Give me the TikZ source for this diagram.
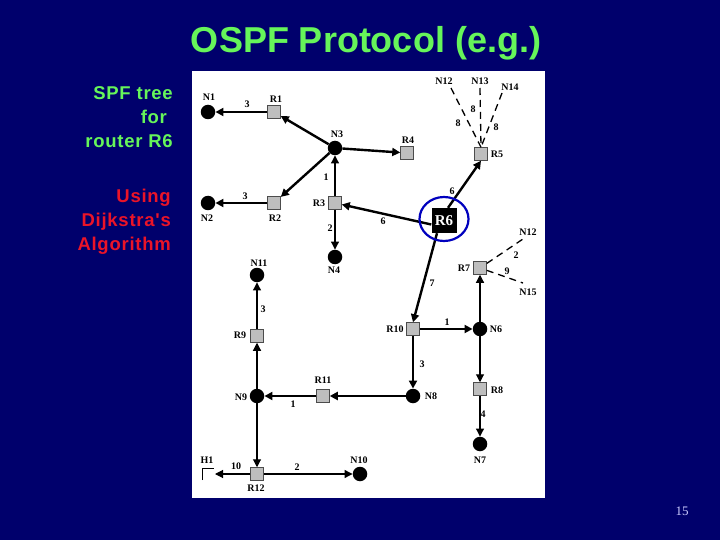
\documentclass[tikz,border=0pt]{standalone}
\usepackage{fontspec}
\setmainfont{Liberation Serif}
\setsansfont{Liberation Sans}
\newfontfamily\sidefont[LetterSpace=4]{Liberation Sans}
\usetikzlibrary{arrows.meta,shapes.geometric}
\definecolor{slidebg}{RGB}{0,0,108}
\definecolor{titlegreen}{RGB}{102,245,90}
\definecolor{sidered}{RGB}{235,20,40}
\definecolor{ringblue}{RGB}{0,0,190}
\definecolor{routergray}{RGB}{190,190,190}
\tikzset{
    router/.style={draw=black!70, fill=routergray, minimum size=13pt, inner sep=0pt, line width=0.5pt},
    net/.style={circle, fill=black, minimum size=14.5pt, inner sep=0pt},
    lab/.style={font=\bfseries\fontsize{10}{10}\selectfont, text=black, inner sep=0pt},
    side/.style={font=\sidefont\bfseries\fontsize{18.5}{24}\selectfont, align=right, anchor=north east, inner sep=0pt},
    thin link/.style={line width=1.1pt, -{Triangle[length=8pt,width=8pt]}},
    thick link/.style={line width=2.4pt, -{Triangle[length=8pt,width=8pt]}},
    dash link/.style={line width=1.3pt, dash pattern=on 7pt off 5pt}
}
\begin{document}
\begin{tikzpicture}[x=1pt,y=-1pt]
    % Folie
    \fill[slidebg] (0,0) rectangle (720,540);
    \fill[white] (192,71) rectangle (545,498);
    \useasboundingbox (0,0) rectangle (720,540);
    \node[font=\sffamily\bfseries\fontsize{36}{36}\selectfont, text=titlegreen] (title) at (366,43) {OSPF Protocol (e.g.)};
    \node[side, text=titlegreen] (spf) at (173,86) {SPF tree\\for\phantom{ }\\router R6};
    \node[side, text=sidered] (dijkstra) at (171,189) {Using\\Dijkstra's\\Algorithm};
    \node[font=\fontsize{13}{13}\selectfont, text=white!80!blue] (page) at (682,511) {15};
    % Netze
    \node[net] (N1) at (208,112) {};
    \node[net] (N2) at (208,203) {};
    \node[net] (N3) at (335,148) {};
    \node[net] (N4) at (335,257) {};
    \node[net] (N6) at (480,329) {};
    \node[net] (N7) at (480,444) {};
    \node[net] (N8) at (413,396) {};
    \node[net] (N9) at (257,396) {};
    \node[net] (N10) at (360,474) {};
    \node[net] (N11) at (257,275) {};
    % Router
    \node[router] (R1) at (274,112) {};
    \node[router] (R2) at (274,203) {};
    \node[router] (R3) at (335,203) {};
    \node[router] (R4) at (407,153) {};
    \node[router] (R5) at (481,154) {};
    \node[router] (R7) at (480,268) {};
    \node[router] (R8) at (480,389) {};
    \node[router] (R9) at (257,336) {};
    \node[router] (R10) at (413,329) {};
    \node[router] (R11) at (323,396) {};
    \node[router] (R12) at (257,474) {};
    \node[fill=black, text=white, minimum size=25pt, inner sep=0pt, font=\bfseries\fontsize{15}{15}\selectfont] (R6) at (444,220.5) {R6};
    % dicke Kanten
    \draw[thick link] (R1) -- (N1);
    \draw[thick link] (N3) -- (R1);
    \draw[thick link] (N3) -- (R2);
    \draw[thick link] (R2) -- (N2);
    \draw[thick link] (N3) -- (R4);
    \draw[thick link] ([yshift=-4pt]R6.west) -- (R3);
    \draw[thick link] ([xshift=4pt]R6.north) -- (R5.south);
    \draw[thick link] ([xshift=-7pt]R6.south) -- (R10.north);
    \draw[thick link] (R10) -- (N6);
    \draw[thick link] (R10) -- (N8);
    \draw[thick link] (N8) -- (R11);
    \draw[thick link] (R11) -- (N9);
    % duenne Kanten
    \draw[thin link] (R3) -- (N3);
    \draw[thin link] (R3) -- (N4);
    \draw[thin link] (R9) -- (N11);
    \draw[thin link] (N9) -- (R9);
    \draw[thin link] (N9) -- (R12);
    \draw[thin link] (N6) -- (R7);
    \draw[thin link] (N6) -- (R8);
    \draw[thin link] (R8) -- (N7);
    \draw[thin link] (R12) -- (N10);
    % Host
    \coordinate (H1c) at (202,468);
    \draw[line width=0.7pt] (202,480) -- (H1c) -- (214,468);
    \coordinate (H1e) at (215,474);
    \draw[thin link] (R12) -- (H1e);
    % gestrichelt
    \coordinate (d12) at (451,88);
    \coordinate (d13) at (480,88);
    \coordinate (d14) at (502,93);
    \coordinate (e12) at (523,239);
    \coordinate (e15) at (523,283);
    \draw[dash link] (d12) -- (R5.north);
    \draw[dash link] (d13) -- (R5.north);
    \draw[dash link] (d14) -- (R5.north);
    \draw[dash link] (R7) -- (e12);
    \draw[dash link] (R7) -- (e15);
    % Ring
    \node[ellipse, draw=ringblue, line width=2.2pt, minimum width=49pt, minimum height=44pt, inner sep=0pt] (ring) at (444,219) {};
    % Beschriftung Knoten
    \node[lab] (lN1) at (209,97) {N1};
    \node[lab] (lR1) at (276,99) {R1};
    \node[lab] (lN3) at (337,134) {N3};
    \node[lab] (lR4) at (408,140) {R4};
    \node[lab] (lR5) at (497,154) {R5};
    \node[lab] (lR3) at (319,203) {R3};
    \node[lab] (lR2) at (275,218) {R2};
    \node[lab] (lN2) at (207,218) {N2};
    \node[lab] (lN4) at (334,270) {N4};
    \node[lab] (lN11) at (259,263) {N11};
    \node[lab] (lR9) at (240,335) {R9};
    \node[lab] (lN9) at (241,397) {N9};
    \node[lab] (lR11) at (323,380) {R11};
    \node[lab] (lN8) at (431,396) {N8};
    \node[lab] (lR10) at (395,329) {R10};
    \node[lab] (lN6) at (496,329) {N6};
    \node[lab] (lR7) at (464,268) {R7};
    \node[lab] (lR8) at (497,390) {R8};
    \node[lab] (lN7) at (480,460) {N7};
    \node[lab] (lR12) at (256,488) {R12};
    \node[lab] (lN10) at (359,460) {N10};
    \node[lab] (lH1) at (207,460) {H1};
    \node[lab] (lN12a) at (444,81) {N12};
    \node[lab] (lN13) at (480,81) {N13};
    \node[lab] (lN14) at (510,87) {N14};
    \node[lab] (lN12b) at (528,232) {N12};
    \node[lab] (lN15) at (528,292) {N15};
    % Beschriftung Kosten
    \node[lab] (c1) at (247,104) {3};
    \node[lab] (c2) at (245,196) {3};
    \node[lab] (c3) at (326,177) {1};
    \node[lab] (c4) at (330,228) {2};
    \node[lab] (c5) at (383,221) {6};
    \node[lab] (c6) at (452,191) {6};
    \node[lab] (c7) at (473,109) {8};
    \node[lab] (c8) at (458,123) {8};
    \node[lab] (c9) at (496,127) {8};
    \node[lab] (c10) at (432,283) {7};
    \node[lab] (c11) at (516,255) {2};
    \node[lab] (c12) at (507,271) {9};
    \node[lab] (c13) at (447,322) {1};
    \node[lab] (c14) at (422,364) {3};
    \node[lab] (c15) at (483,414) {4};
    \node[lab] (c16) at (263,309) {3};
    \node[lab] (c17) at (293,404) {1};
    \node[lab] (c18) at (236,466) {10};
    \node[lab] (c19) at (297,467) {2};
\end{tikzpicture}
\end{document}
